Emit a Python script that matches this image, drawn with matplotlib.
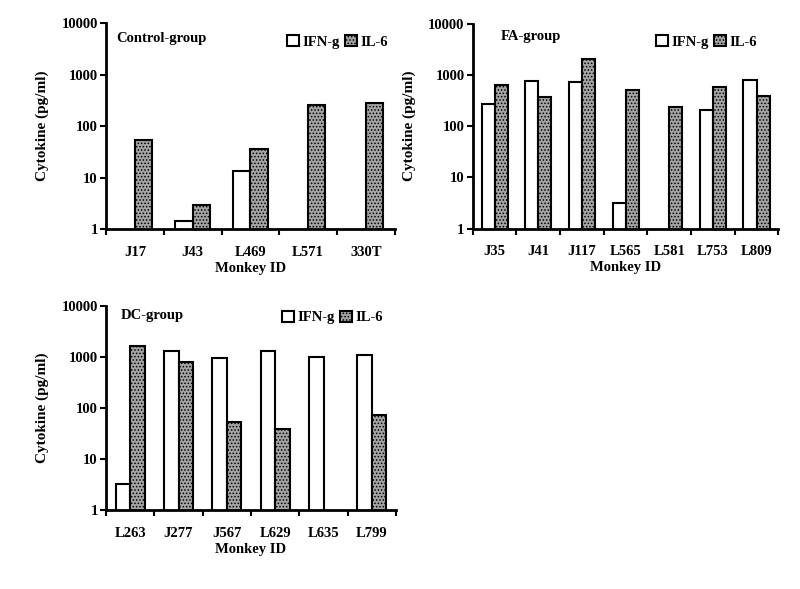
import numpy as np
import matplotlib
matplotlib.use("Agg")
import matplotlib.pyplot as plt
from matplotlib.ticker import FixedLocator, NullLocator

plt.rcParams['font.family'] = 'Liberation Serif'
plt.rcParams['font.weight'] = 'bold'
plt.rcParams['hatch.linewidth'] = 0.7

# data (nan = no bar)
ctrl_ids = ['J17', 'J43', 'L469', 'L571', '330T']
ctrl_ifng = [np.nan, 1.45, 13.5, np.nan, np.nan]
ctrl_il6 = [53, 3.0, 36, 252, 280]

fa_ids = ['J35', 'J41', 'J117', 'L565', 'L581', 'L753', 'L809']
fa_ifng = [275, 748, 740, 3.1, np.nan, 206, 808]
fa_il6 = [645, 365, 2050, 500, 233, 571, 381]

dc_ids = ['L263', 'J277', 'J567', 'L629', 'L635', 'L799']
dc_ifng = [3.3, 1300, 960, 1300, 1000, 1080]
dc_il6 = [1600, 800, 53, 38, np.nan, 72]

FS = 10.5

fig = plt.figure(figsize=(8, 5.89), dpi=100)


def panel(rect, ids, ifng, il6, title, title_xy, leg_xy):
    ax = fig.add_axes(rect)
    ax.set_yscale('log')
    x = np.arange(len(ids))
    w = 0.3
    ifng = np.array(ifng, dtype=float)
    il6 = np.array(il6, dtype=float)
    m1 = np.isfinite(ifng)
    m2 = np.isfinite(il6)
    ax.bar(x[m1] - w / 2, ifng[m1], w, facecolor='white', edgecolor='black',
           linewidth=1.5, label='IFN-g')
    ax.bar(x[m2] + w / 2, il6[m2], w, facecolor='#a4a4a4', edgecolor='black',
           linewidth=1.5, hatch='.....', label='IL-6')
    ax.set_xlim(-0.5, len(ids) - 0.5)
    ax.set_ylim(1, 10000)

    # y axis
    ax.yaxis.set_major_locator(FixedLocator([1, 10, 100, 1000, 10000]))
    ax.yaxis.set_minor_locator(NullLocator())
    ax.set_yticklabels(['1', '10', '100', '1000', '10000'])
    ax.tick_params(axis='y', direction='out', length=4, width=1.5, labelsize=FS, pad=2)

    # x axis: ticks at boundaries, labels at centres
    ax.set_xticks(np.arange(len(ids) + 1) - 0.5)
    ax.set_xticklabels([])
    ax.set_xticks(x, minor=True)
    ax.set_xticklabels(ids, minor=True)
    ax.tick_params(axis='x', which='major', direction='out', length=4, width=1.5)
    ax.tick_params(axis='x', which='minor', length=0, labelsize=FS, pad=12)

    for s in ['top', 'right']:
        ax.spines[s].set_visible(False)
    for s in ['left', 'bottom']:
        ax.spines[s].set_linewidth(2)

    ax.set_ylabel('Cytokine (pg/ml)', fontsize=11, fontweight='bold', labelpad=9)
    ax.set_xlabel('Monkey ID', fontsize=FS, fontweight='bold', labelpad=2)
    ax.text(title_xy[0], title_xy[1], title, transform=ax.transAxes,
            fontsize=FS, fontweight='bold', va='center', ha='left')
    ax.legend(loc='center right', bbox_to_anchor=leg_xy, ncol=2, frameon=False,
              fontsize=FS, handlelength=0.8, handleheight=0.8, handletextpad=0.25,
              columnspacing=0.35, borderaxespad=0, borderpad=0)
    return ax


panel([0.1325, 0.611, 0.361, 0.350], ctrl_ids, ctrl_ifng, ctrl_il6,
      'Control-group', (0.035, 0.927), (0.976, 0.908))
panel([0.591, 0.612, 0.382, 0.348], fa_ids, fa_ifng, fa_il6,
      'FA-group', (0.09, 0.935), (0.93, 0.91))
panel([0.1325, 0.134, 0.3625, 0.347], dc_ids, dc_ifng, dc_il6,
      'DC-group', (0.05, 0.95), (0.955, 0.943))

fig.savefig('out.png', dpi=100)
